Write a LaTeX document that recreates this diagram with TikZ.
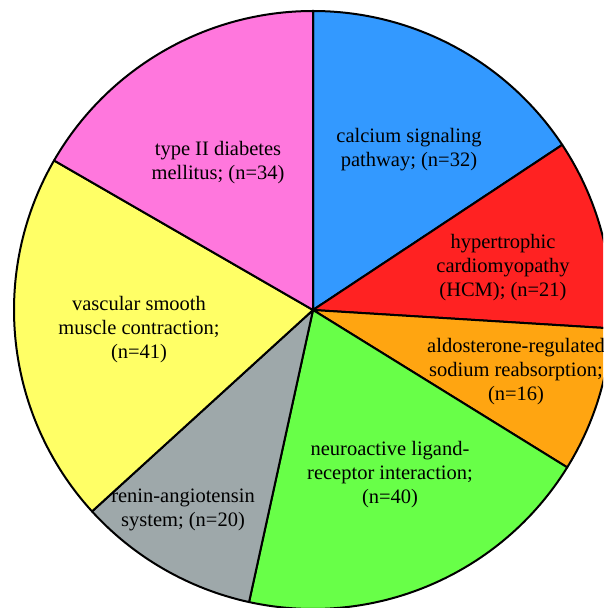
\documentclass[tikz,border=0pt]{standalone}
\usepackage{fontspec}
\setmainfont{Liberation Serif}
\definecolor{cblue}{RGB}{51,153,255}
\definecolor{cred}{RGB}{255,34,34}
\definecolor{corange}{RGB}{255,165,17}
\definecolor{cgreen}{RGB}{104,255,72}
\definecolor{cgray}{RGB}{158,168,170}
\definecolor{cyellow}{RGB}{255,255,102}
\definecolor{cpink}{RGB}{255,119,221}
\begin{document}
\begin{tikzpicture}[x=1pt,y=1pt,
  slice/.style={draw=black,line width=2pt,line join=round},
  lbl/.style={align=center,font=\fontsize{20.5}{24}\selectfont,inner sep=0pt}]
\useasboundingbox (0,0) rectangle (603,608);
\clip (0,0) rectangle (603,608);
\coordinate (c) at (313,298);
\def\R{299}
\fill[white] (0,0) rectangle (603,608);
\filldraw[slice,fill=cblue] (c) -- ++(90:\R) arc[start angle=90,end angle=33.53,radius=\R] -- cycle;
\filldraw[slice,fill=cred] (c) -- ++(33.53:\R) arc[start angle=33.53,end angle=-3.53,radius=\R] -- cycle;
\filldraw[slice,fill=corange] (c) -- ++(-3.53:\R) arc[start angle=-3.53,end angle=-31.76,radius=\R] -- cycle;
\filldraw[slice,fill=cgreen] (c) -- ++(-31.76:\R) arc[start angle=-31.76,end angle=-102.35,radius=\R] -- cycle;
\filldraw[slice,fill=cgray] (c) -- ++(-102.35:\R) arc[start angle=-102.35,end angle=-137.65,radius=\R] -- cycle;
\filldraw[slice,fill=cyellow] (c) -- ++(-137.65:\R) arc[start angle=-137.65,end angle=-210,radius=\R] -- cycle;
\filldraw[slice,fill=cpink] (c) -- ++(150:\R) arc[start angle=150,end angle=90,radius=\R] -- cycle;
\node[lbl] (calcium) at (409,458) {calcium signaling\\pathway; (n=32)};
\node[lbl] (hcm) at (503,340) {hypertrophic\\cardiomyopathy\\(HCM); (n=21)};
\node[lbl] (aldo) at (516,236) {aldosterone-regulated\\sodium reabsorption;\\(n=16)};
\node[lbl] (neuro) at (390,133) {neuroactive ligand-\\receptor interaction;\\(n=40)};
\node[lbl] (renin) at (183,98) {renin-angiotensin\\system; (n=20)};
\node[lbl] (vasc) at (139,278) {vascular smooth\\muscle contraction;\\(n=41)};
\node[lbl] (diab) at (218,445) {type II diabetes\\mellitus; (n=34)};
\end{tikzpicture}
\end{document}
